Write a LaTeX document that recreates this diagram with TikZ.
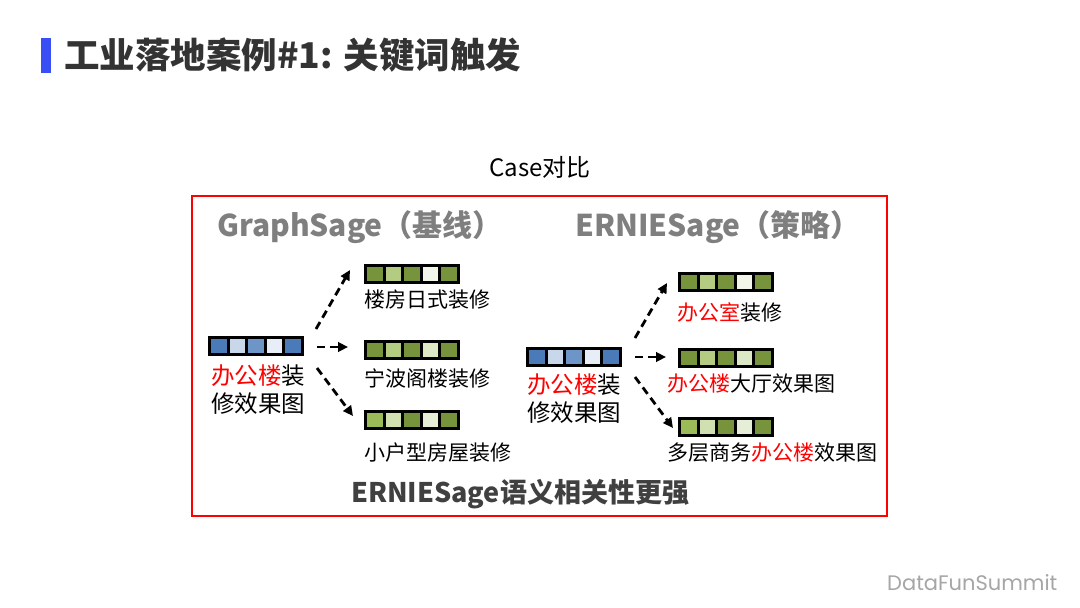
\documentclass[tikz,border=0pt]{standalone}
\usepackage{fontspec}
\setmainfont{Noto Sans CJK SC}
\newfontfamily\dffont{Poppins}
\usetikzlibrary{calc,arrows.meta}
\definecolor{titlegray}{HTML}{333333}
\definecolor{headgray}{HTML}{7F7F7F}
\definecolor{bottomgray}{HTML}{404040}
\definecolor{barblue}{HTML}{3A4EF5}
\definecolor{dfgray}{HTML}{A6A6A6}
\definecolor{bA}{HTML}{4A7AB8}
\definecolor{bB}{HTML}{C9D7EA}
\definecolor{bC}{HTML}{6D95C8}
\definecolor{bD}{HTML}{E8EEF7}
\definecolor{gA}{HTML}{77933C}
\definecolor{gB}{HTML}{B3CC82}
\definecolor{gC}{HTML}{F2F5EA}
\definecolor{gD}{HTML}{DCE8C6}
\definecolor{gE}{HTML}{9BBB59}
\definecolor{gF}{HTML}{D0E0B0}
\definecolor{gG}{HTML}{E6EED8}
\tikzset{
  vecbar/.style={fill=black, minimum width=96pt, minimum height=20pt, inner sep=0pt, outer sep=0pt},
  lbl/.style={anchor=west, inner sep=0pt, font=\fontsize{21}{21}\selectfont},
  srclbl/.style={anchor=west, inner sep=0pt, font=\fontsize{23.5}{23.5}\selectfont},
  head/.style={inner sep=0pt, text=headgray, font=\fontsize{30}{30}\selectfont\bfseries},
  arr/.style={line width=2.8pt, dash pattern=on 8pt off 5pt, -{Triangle[length=10pt,width=9.5pt]}},
}
\newcommand\embbar[7]{%
  \node[vecbar] (#1) at (#2) {};
  \foreach \c [count=\i from 0] in {#3,#4,#5,#6,#7}
    \fill[\c] ($(#1.south west)+(3+\i*18.6,3)$) rectangle ++(15.6,14);
}
\begin{document}
\begin{tikzpicture}[x=1pt,y=1pt]
\useasboundingbox (0,0) rectangle (1080,-608);
\fill[white] (0,0) rectangle (1080,-608);

% title
\fill[barblue] (41,-38) rectangle (51,-73);
\node[anchor=west, inner sep=0pt, text=titlegray, font=\fontsize{35.5}{35.5}\selectfont\bfseries] (title) at (64,-55) {工业落地案例\#1: 关键词触发};

\node[inner sep=0pt, font=\fontsize{24}{24}\selectfont] (case) at (540,-167) {Case对比};

% frame
\node[draw=red, line width=2.5pt, minimum width=695pt, minimum height=320pt, inner sep=0pt] (frame) at (539.5,-356) {};

\node[head] (h1) at (360,-227) {GraphSage（基线）};
\node[head] (h2) at (718,-227) {ERNIESage（策略）};

% left group
\embbar{lb}{256,-346}{bA}{bB}{bC}{bD}{bA}
\node[srclbl] (lt1) at (211,-376) {{\color{red}办公楼}装};
\node[srclbl] (lt2) at (211,-404) {修效果图};

\embbar{ga}{412,-274}{gA}{gB}{gA}{gC}{gA}
\embbar{gb}{412,-350}{gA}{gB}{gA}{gD}{gA}
\embbar{gc}{412,-420}{gE}{gF}{gA}{gG}{gA}
\node[lbl] (la) at (364,-300) {楼房日式装修};
\node[lbl] (lbb) at (364,-378) {宁波阁楼装修};
\node[lbl] (lc) at (364,-453) {小户型房屋装修};

\draw[arr] ($(lb.east)+(12,17)$) -- ($(ga.west)+(-14,4)$);
\draw[arr] ($(lb.east)+(13,-1)$) -- ($(gb.west)+(-16,3)$);
\draw[arr] ($(lb.east)+(13,-22)$) -- ($(gc.west)+(-11,4)$);

% right group
\embbar{rb}{574,-357}{bA}{bB}{bC}{bD}{bA}
\node[srclbl] (rt1) at (527,-385) {{\color{red}办公楼}装};
\node[srclbl] (rt2) at (527,-413) {修效果图};

\embbar{ha}{726,-282}{gA}{gB}{gA}{gC}{gA}
\embbar{hb}{726,-358}{gA}{gB}{gA}{gD}{gA}
\embbar{hc}{726,-427}{gE}{gF}{gA}{gG}{gA}
\node[lbl] (ra) at (677,-312) {{\color{red}办公室}装修};
\node[lbl] (rbl) at (667,-384) {{\color{red}办公楼}大厅效果图};
\node[lbl] (rc) at (667,-453) {多层商务{\color{red}办公楼}效果图};

\draw[arr] ($(rb.east)+(13,19)$) -- ($(ha.west)+(-11,-1)$);
\draw[arr] ($(rb.east)+(13,0)$) -- ($(hb.west)+(-12,1)$);
\draw[arr] ($(rb.east)+(13,-20)$) -- ($(hc.west)+(-5,-1)$);

\node[inner sep=0pt, text=bottomgray, font=\fontsize{27}{27}\selectfont\bfseries] (concl) at (520,-494) {ERNIESage语义相关性更强};

\node[anchor=west, inner sep=0pt, text=dfgray, font=\dffont\fontsize{21}{21}\selectfont] (df) at (887,-583) {DataFunSummit};
\end{tikzpicture}
\end{document}
